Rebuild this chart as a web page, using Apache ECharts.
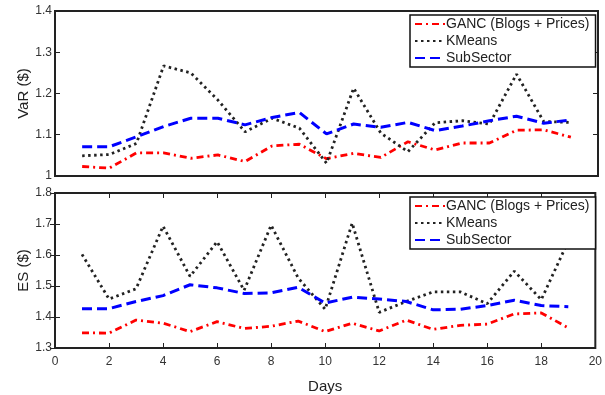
<!DOCTYPE html>
<html><head><meta charset="utf-8">
<script src="https://cdn.jsdelivr.net/npm/echarts@6/dist/echarts.min.js"></script>
<style>html,body{margin:0;padding:0;background:#fff}#c{width:605px;height:395px}</style>
</head><body><div id="c"></div>
<script>
const days = [1,2,3,4,5,6,7,8,9,10,11,12,13,14,15,16,17,18,19];
const seriesNames = ['GANC (Blogs + Prices)', 'KMeans', 'SubSector'];
const varGanc = [1.023,1.019,1.056,1.056,1.043,1.051,1.035,1.073,1.077,1.042,1.055,1.045,1.083,1.063,1.080,1.080,1.111,1.112,1.094];
const varKmeans = [1.049,1.052,1.079,1.267,1.250,1.184,1.107,1.140,1.116,1.031,1.213,1.104,1.059,1.129,1.134,1.126,1.247,1.132,1.130];
const varSub = [1.071,1.071,1.095,1.120,1.140,1.140,1.124,1.142,1.154,1.102,1.126,1.118,1.130,1.110,1.121,1.134,1.145,1.128,1.136];
const esGanc = [1.349,1.348,1.390,1.380,1.353,1.385,1.363,1.370,1.387,1.353,1.380,1.355,1.390,1.360,1.373,1.377,1.410,1.413,1.365];
const esKmeans = [1.602,1.458,1.491,1.693,1.531,1.643,1.486,1.696,1.526,1.425,1.703,1.415,1.450,1.481,1.481,1.443,1.548,1.456,1.645];
const esSub = [1.427,1.427,1.450,1.469,1.504,1.494,1.476,1.478,1.496,1.445,1.464,1.458,1.450,1.423,1.425,1.437,1.454,1.437,1.433];

const pair = arr => days.map((d,i)=>[d, arr[i]]);
const FONT = 'Liberation Sans, Arial, Helvetica, sans-serif';
const styles = [
  {color:'#ff0000', type:[7,4,2,4], width:2.8},
  {color:'#222222', type:[2.5,3.5], width:2.8},
  {color:'#0000ff', type:[10,5], width:3}
];
function mkSeries(name, data, xi, yi, s){
  return {type:'line', name, data: pair(data), xAxisIndex:xi, yAxisIndex:yi, symbol:'none', silent:true, animation:false,
    lineStyle:{color:s.color, type:s.type, width:s.width}, itemStyle:{color:s.color}};
}
const tick = {show:true, inside:true, length:5, lineStyle:{color:'#222', width:1}};
const label = {color:'#333', fontSize:12, fontFamily:FONT};
function legend(top){
  return {data:seriesNames, orient:'vertical', left:410, top:top, itemWidth:30, itemHeight:12, itemGap:3,
    padding:[2,6,2,4], backgroundColor:'#fff', borderColor:'#111', borderWidth:1.5, selectedMode:false,
    itemStyle:{color:'rgba(0,0,0,0)', borderWidth:0, opacity:0},
    textStyle:{fontSize:14, fontFamily:FONT, color:'#222', padding:[0,0,0,-4]}};
}
const chart = echarts.init(document.getElementById('c'), null, {renderer:'canvas'});
chart.setOption({
  animation:false,
  backgroundColor:'#fff',
  grid:[
    {left:55, top:11, width:543, height:165, show:true, borderColor:'#222', borderWidth:2},
    {left:55, top:193, width:543, height:165, show:true, borderColor:'#222', borderWidth:2}
  ],
  legend:[legend(15), legend(197)],
  xAxis:[
    {gridIndex:0, type:'value', min:0, max:20, interval:2, axisLabel:{show:false}, axisTick:{show:false}, axisLine:{show:false}, splitLine:{show:false}},
    {gridIndex:1, type:'value', min:0, max:20, interval:2, position:'bottom', axisLabel:Object.assign({margin:8}, label), axisTick:tick, axisLine:{show:false}, splitLine:{show:false},
      name:'Days', nameLocation:'middle', nameGap:31, nameTextStyle:{fontSize:15, fontFamily:FONT, color:'#222'}},
    {gridIndex:1, type:'value', min:0, max:20, interval:2, position:'top', axisLabel:{show:false}, axisTick:tick, axisLine:{show:false}, splitLine:{show:false}}
  ],
  yAxis:[
    {gridIndex:0, type:'value', min:1, max:1.4, interval:0.1, position:'left', axisLabel:Object.assign({margin:3}, label), axisTick:tick, axisLine:{show:false}, splitLine:{show:false},
      name:'VaR ($)', nameLocation:'middle', nameGap:24, nameMoveOverlap:false, nameRotate:90, nameTextStyle:{fontSize:15, fontFamily:FONT, color:'#222'}},
    {gridIndex:0, type:'value', min:1, max:1.4, interval:0.1, position:'right', axisLabel:{show:false}, axisTick:tick, axisLine:{show:false}, splitLine:{show:false}},
    {gridIndex:1, type:'value', min:1.3, max:1.8, interval:0.1, position:'left', axisLabel:Object.assign({margin:3}, label), axisTick:tick, axisLine:{show:false}, splitLine:{show:false},
      name:'ES ($)', nameLocation:'middle', nameGap:24, nameMoveOverlap:false, nameRotate:90, nameTextStyle:{fontSize:15, fontFamily:FONT, color:'#222'}},
    {gridIndex:1, type:'value', min:1.3, max:1.8, interval:0.1, position:'right', axisLabel:{show:false}, axisTick:tick, axisLine:{show:false}, splitLine:{show:false}}
  ],
  series:[
    mkSeries(seriesNames[0], varGanc, 0, 0, styles[0]),
    mkSeries(seriesNames[1], varKmeans, 0, 0, styles[1]),
    mkSeries(seriesNames[2], varSub, 0, 0, styles[2]),
    mkSeries(seriesNames[0], esGanc, 1, 2, styles[0]),
    mkSeries(seriesNames[1], esKmeans, 1, 2, styles[1]),
    mkSeries(seriesNames[2], esSub, 1, 2, styles[2])
  ]
});
</script></body></html>
